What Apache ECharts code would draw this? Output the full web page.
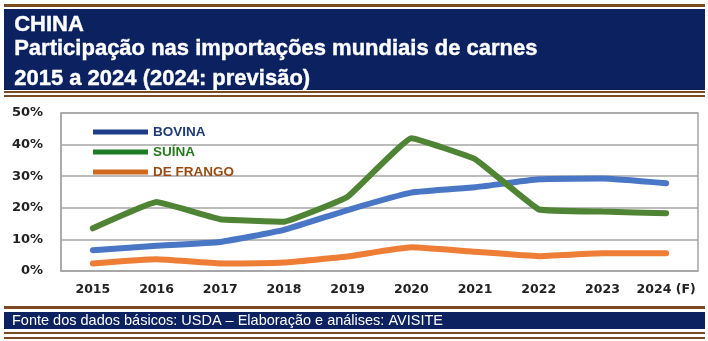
<!DOCTYPE html>
<html>
<head>
<meta charset="utf-8">
<script src="https://cdn.jsdelivr.net/npm/echarts@6/dist/echarts.min.js"></script>
<style>
html,body{margin:0;padding:0;background:#fff;}
#c{width:708px;height:341px;}
</style>
</head>
<body>
<div id="c"></div>
<script>
var years = ['2015','2016','2017','2018','2019','2020','2021','2022','2023','2024 (F)'];
var bovina = [6.6, 8.0, 9.2, 13.0, 19.3, 24.8, 26.5, 29.0, 29.3, 27.8];
var suina  = [13.5, 21.8, 16.4, 15.6, 23.5, 42.0, 35.4, 19.5, 18.8, 18.3];
var frango = [2.4, 3.7, 2.4, 2.7, 4.6, 7.5, 6.1, 4.7, 5.6, 5.6];
var yTicks = ['0%','10%','20%','30%','40%','50%'];
var titleLines = ['CHINA', 'Participação nas importações mundiais de carnes', '2015 a 2024 (2024: previsão)'];
var footerText = 'Fonte dos dados básicos: USDA – Elaboração e análises: AVISITE';

var navy = '#0C2160', brown = '#7A4A22';
var chart = echarts.init(document.getElementById('c'), null, {renderer:'canvas'});
var titleFont = '"Liberation Sans", Arial, sans-serif';
function titleText(t, top){
  return {type:'text', left:14, top:top, style:{text:t, fill:'#fff', stroke:'#fff', lineWidth:0.4, fontFamily:'Liberation Sans', fontWeight:'bold', fontSize:22}};
}
chart.setOption({
  animation:false,
  backgroundColor:'#fff',
  grid:{left:61, right:10, top:113, bottom:70, show:true, borderColor:'#A6A6A6', borderWidth:1.5, backgroundColor:'transparent'},
  legend:{
    orient:'vertical', left:88, top:120, icon:'rect', itemWidth:55, itemHeight:5, itemGap:6,
    textStyle:{fontFamily:titleFont, fontWeight:'bold', fontSize:13.5, lineHeight:14},
    data:[
      {name:'BOVINA', itemStyle:{color:'#1F3C88'}, textStyle:{color:'#1F3A78'}},
      {name:'SUÍNA', itemStyle:{color:'#1E7B24'}, textStyle:{color:'#267A1E'}},
      {name:'DE FRANGO', itemStyle:{color:'#D06A1E'}, textStyle:{color:'#9A4A12'}}
    ]
  },
  xAxis:{
    type:'category', data:years, boundaryGap:true,
    axisLine:{show:true, lineStyle:{color:'#A6A6A6', width:1.5}},
    axisTick:{show:false},
    axisLabel:{interval:0, margin:12, color:'#222', fontFamily:'"DejaVu Sans", Verdana, sans-serif', fontWeight:'bold', fontSize:12.5}
  },
  yAxis:{
    type:'value', min:0, max:50, interval:10,
    axisLine:{show:true, lineStyle:{color:'#A6A6A6', width:1.5}},
    axisTick:{show:false},
    splitLine:{lineStyle:{color:'#A6A6A6', width:1.5}},
    axisLabel:{margin:18, color:'#222', fontFamily:'"DejaVu Sans", Verdana, sans-serif', fontWeight:'bold', fontSize:13,
      formatter:function(v){return yTicks[Math.round(v/10)];}}
  },
  series:[
    {name:'BOVINA', type:'line', data:bovina, symbol:'none', smooth:0.12, lineStyle:{color:'#4A76C6', width:6, cap:'round'}, itemStyle:{color:'#4A76C6'}},
    {name:'SUÍNA', type:'line', data:suina, symbol:'none', smooth:0.08, lineStyle:{color:'#4F8434', width:6, cap:'round'}, itemStyle:{color:'#4F8434'}},
    {name:'DE FRANGO', type:'line', data:frango, symbol:'none', smooth:0.12, lineStyle:{color:'#EE7D36', width:6, cap:'round'}, itemStyle:{color:'#EE7D36'}}
  ],
  graphic:[
    {type:'rect', shape:{x:4, y:4, width:701, height:3}, style:{fill:brown}},
    {type:'rect', shape:{x:4, y:9, width:701, height:81}, style:{fill:navy}},
    {type:'rect', shape:{x:4, y:91, width:701, height:2}, style:{fill:brown}},
    {type:'rect', shape:{x:4, y:95, width:701, height:2}, style:{fill:brown}},
    titleText(titleLines[0], 14),
    titleText(titleLines[1], 38),
    titleText(titleLines[2], 68),
    {type:'rect', shape:{x:4, y:306, width:701, height:3}, style:{fill:brown}},
    {type:'rect', shape:{x:4, y:312, width:701, height:17}, style:{fill:navy}},
    {type:'rect', shape:{x:4, y:332, width:701, height:2}, style:{fill:brown}},
    {type:'rect', shape:{x:4, y:337, width:701, height:2}, style:{fill:brown}},
    {type:'text', left:12, top:313, style:{text:footerText, fill:'#fff', fontFamily:'Liberation Sans', fontSize:14.5}}
  ]
});
</script>
</body>
</html>
